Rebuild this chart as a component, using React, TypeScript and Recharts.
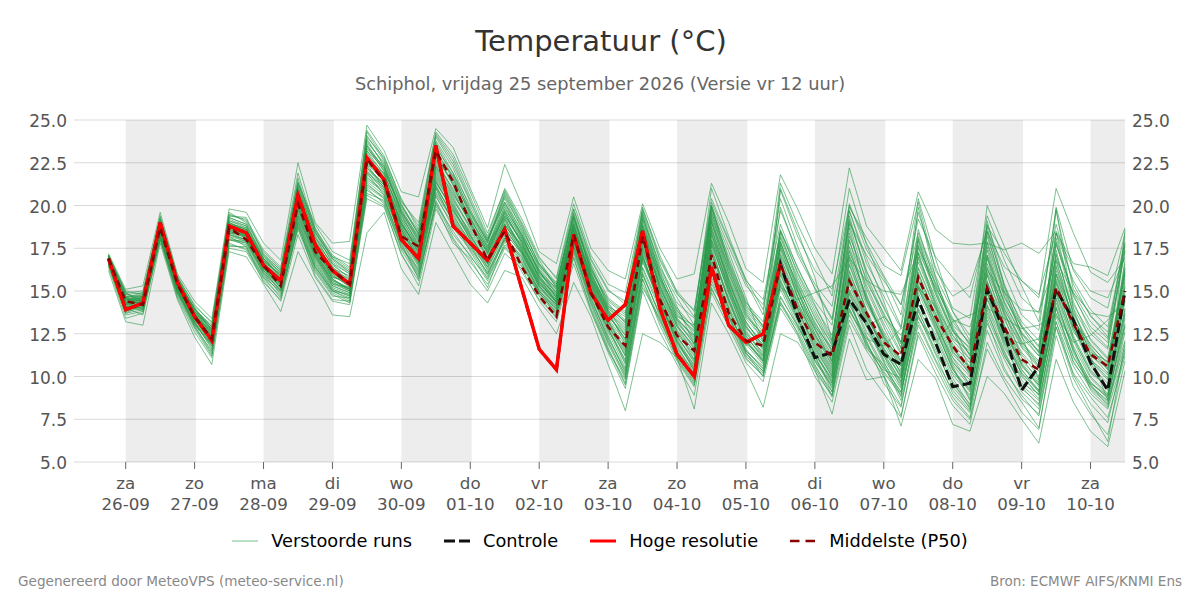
import { CartesianGrid, Line, LineChart, ReferenceArea, XAxis, YAxis } from "recharts";

const hours = [-6,0,6,12,18,24,30,36,42,48,54,60,66,72,78,84,90,96,102,108,114,120,126,132,138,144,150,156,162,168,174,180,186,192,198,204,210,216,222,228,234,240,246,252,258,264,270,276,282,288,294,300,306,312,318,324,330,336,342,348];
const dayTicks = [0,24,48,72,96,120,144,168,192,216,240,264,288,312,336];
const dayNames = ["za","zo","ma","di","wo","do","vr","za","zo","ma","di","wo","do","vr","za"];
const dayDates = ["26-09","27-09","28-09","29-09","30-09","01-10","02-10","03-10","04-10","05-10","06-10","07-10","08-10","09-10","10-10"];
const shadedStarts = [0,48,96,144,192,240,288,336];
const tempTicks = [5,7.5,10,12.5,15,17.5,20,22.5,25];

const hogeResolutie = [16.9,13.9,14.3, 19.0,15.5,13.5,12.1, 18.8,18.4,16.5,15.6, 20.6,17.7,16.2,15.4, 22.8,21.5,18.0,16.9, 23.5,18.8,17.8,16.8, 18.6,15.1,11.6,10.4, 18.3,14.9,13.3,14.2, 18.5,14.0,11.3,10.0, 16.4,13.0,12.0,12.5, 16.6];
const controle = [16.9,13.9,14.3, 19.0,15.5,13.5,12.1, 18.8,18.4,16.5,15.6, 20.6,17.7,16.2,15.4, 22.8,21.5,18.0,16.9, 23.5,18.8,17.8,16.8, 18.6,15.1,11.6,10.4, 18.3,14.9,13.3,14.2, 18.5,14.0,11.3,10.0, 16.4,13.0,12.0,12.5, 16.6,13.5,11.1,11.4, 14.5,13.1,11.3,10.7, 14.5,12.0,9.4,9.6, 15.1,12.6,9.2,10.6, 15.1,13.3,10.8,9.2, 15.0];
const middelste = [16.9,14.4,14.2, 18.7,15.4,13.5,12.2, 18.7,18.0,16.5,15.3, 20.1,17.3,16.2,15.4, 22.7,21.4,18.2,17.6, 23.2,21.4,19.0,16.8, 18.5,16.4,14.7,13.5, 18.3,14.9,12.9,11.8, 18.2,14.5,12.4,11.5, 17.1,13.7,12.1,11.8, 16.6,13.9,12.0,11.2, 15.6,13.7,12.0,11.2, 15.8,13.5,11.8,10.4, 15.2,12.9,11.0,10.4, 15.2,13.1,11.3,10.6, 15.0];

const run01 = [17.2,15.1,15.3, 19.6,16.0,14.4,13.4, 19.8,19.6,17.8,16.8, 22.5,19.0,17.8,17.9, 24.7,23.2,20.8,20.5, 24.5,23.4,21.0,18.7, 22.4,20.0,17.3,16.6, 20.5,17.5,16.2,15.7, 20.1,17.5,15.7,16.0, 21.3,19.0,16.3,15.5, 21.8,19.8,17.5,16.0, 22.2,18.8,17.5,16.2, 20.8,18.6,17.8,17.7, 17.8,17.4,17.8,17.2, 18.5,16.6,16.4,15.9, 18.7];
const run02 = [16.2,13.2,13.0, 17.8,14.5,12.3,10.7, 17.3,17.0,15.4,13.8, 17.3,15.5,13.6,13.5, 18.4,19.6,16.3,14.8, 19.0,17.2,15.4,14.3, 16.2,15.8,14.0,12.5, 15.5,13.5,10.7,8.0, 12.5,12.0,11.1,8.1, 14.3,12.5,10.4,8.2, 12.5,12.0,10.4,7.8, 12.2,9.8,10.0,7.1, 11.0,9.9,7.2,6.8, 10.0,9.0,7.5,6.1, 11.0,8.5,6.8,5.9, 10.3];
const run03 = [17.0,14.8,14.9, 19.2,15.8,13.9,13.0, 19.5,19.1,17.2,16.2, 21.6,18.4,17.0,16.6, 24.1,22.6,20.0,18.5, 24.0,22.4,20.2,18.0, 20.8,18.9,16.8,15.2, 19.8,16.9,15.1,14.2, 19.6,16.4,14.6,13.0, 20.0,16.8,14.4,12.9, 20.9,18.2,16.2,15.1, 20.0,17.8,15.9,14.2, 18.4,15.9,13.8,12.4, 18.9,16.0,13.6,12.7, 19.9,16.2,14.6,14.0, 18.4];
const run04 = [16.9,14.5,14.7, 18.8,15.4,13.6,12.5, 19.0,18.6,16.8,15.9, 20.8,17.9,16.6,16.0, 23.6,22.1,19.5,17.9, 23.4,21.9,19.6,17.6, 20.2,18.2,16.2,14.6, 19.2,16.3,14.3,13.1, 19.2,15.7,13.9,12.4, 19.3,16.0,13.8,12.3, 19.9,17.1,15.2,13.4, 19.7,16.6,14.7,12.8, 18.1,15.3,13.2,11.9, 18.5,15.4,13.0,11.7, 18.4,15.6,13.9,12.9, 17.9];
const run05 = [16.7,14.2,14.4, 18.5,15.2,13.3,12.3, 18.8,18.3,16.5,15.4, 20.2,17.5,16.1,15.4, 23.1,21.6,19.2,17.5, 22.9,21.2,19.1,17.2, 19.6,17.8,15.8,14.3, 18.8,15.8,13.9,12.4, 18.8,15.1,13.3,11.9, 18.6,15.5,13.2,11.7, 18.5,16.4,14.2,12.1, 19.1,16.1,14.1,12.0, 17.6,14.8,12.7,11.3, 17.9,14.9,12.5,11.2, 17.8,14.9,13.2,12.2, 17.3];
const run06 = [16.8,14.6,14.2, 18.3,15.0,13.2,11.9, 18.2,17.9,16.0,15.1, 19.4,16.8,15.2,14.8, 21.5,20.8,18.0,16.2, 21.0,19.0,17.6,16.0, 18.2,17.0,15.0,13.9, 17.6,14.9,12.4,10.2, 16.4,14.1,11.8,10.1, 17.2,14.4,12.0,10.9, 15.6,13.4,11.3,9.8, 14.9,12.6,11.2,9.4, 14.6,12.3,10.1,8.9, 14.2,11.9,9.8,8.7, 14.8,11.8,9.9,8.9, 13.0];
const run07 = [17.1,14.0,14.6, 19.0,15.6,13.7,12.8, 19.2,18.8,17.0,16.1, 21.0,18.2,16.4,15.6, 22.8,21.8,19.4,17.7, 22.2,20.4,18.6,17.1, 19.0,17.6,15.6,14.4, 18.4,15.4,13.3,11.8, 17.8,14.9,12.7,11.0, 18.8,15.4,13.0,11.5, 17.2,15.0,12.5,10.6, 17.6,14.5,12.2,10.1, 16.4,14.0,11.8,10.4, 16.6,13.8,11.1,9.7, 16.4,13.4,11.6,10.6, 15.9];
const run08 = [16.5,13.6,13.8, 18.1,14.9,13.0,11.4, 17.7,17.5,15.8,14.6, 18.8,16.2,14.8,14.3, 20.9,20.2,17.4,15.8, 20.3,18.3,17.1,15.6, 17.7,16.6,14.8,13.6, 17.2,14.2,11.7,9.6, 15.4,13.2,11.1,9.6, 15.6,13.4,11.2,10.2, 14.3,12.8,10.6,9.1, 13.6,11.6,10.7,8.6, 13.2,11.0,9.2,8.0, 13.1,11.0,9.1,8.1, 13.2,10.6,9.0,8.1, 11.4];
const run09 = [16.9,14.9,14.4, 18.9,15.5,14.0,12.7, 18.9,18.4,16.7,15.7, 20.4,17.8,15.7,15.1, 22.3,21.2,18.8,17.0, 22.6,20.8,18.9,17.4, 19.4,18.0,16.0,14.9, 18.9,16.0,14.0,13.0, 18.4,15.6,13.4,12.2, 19.5,16.2,13.6,12.4, 18.2,15.8,13.7,11.8, 19.4,15.9,13.6,11.7, 17.7,15.1,12.7,11.6, 18.4,14.7,12.6,11.4, 17.9,14.2,12.5,11.6, 17.4];
const run10 = [16.6,13.9,14.1, 18.4,15.1,13.4,12.1, 18.5,18.1,16.3,15.3, 19.9,17.1,15.5,15.0, 21.9,21.1,18.3,16.6, 21.5,19.6,18.1,16.4, 18.6,17.3,15.3,14.1, 18.0,15.1,12.9,10.9, 17.0,14.5,12.2,10.6, 17.9,14.8,12.4,11.0, 16.8,14.2,11.9,10.2, 16.2,13.5,11.6,9.9, 15.7,13.2,10.9,9.5, 15.6,12.8,10.4,9.2, 15.2,12.4,10.4,9.3, 14.4];
const run11 = [17.0,14.3,14.0, 18.6,15.3,13.5,12.4, 18.7,18.4,16.6,15.6, 20.6,17.6,16.3,15.9, 23.3,22.3,19.6,18.0, 23.8,22.2,19.8,17.8, 20.4,18.4,16.4,15.3, 19.4,16.4,14.4,13.6, 19.0,15.3,13.0,11.6, 16.6,14.0,11.4,10.0, 14.6,13.0,11.0,9.6, 13.8,12.2,11.8,12.8, 13.4,12.0,13.2,13.6, 14.0,13.4,12.8,13.0, 13.6,12.0,12.4,13.3, 14.6];
const run12 = [16.4,13.4,13.7, 18.0,14.6,12.6,11.1, 17.5,17.3,15.6,14.4, 18.3,15.8,14.4,14.2, 20.4,19.9,17.2,15.3, 19.8,18.0,16.4,15.0, 17.2,16.3,14.4,13.2, 16.6,13.8,11.4,9.3, 15.0,12.6,10.7,8.9, 14.9,12.9,10.8,9.7, 14.0,12.4,10.0,8.5, 13.0,10.4,9.0,7.6, 12.4,10.2,8.3,7.2, 12.0,9.9,8.5,7.0, 12.4,9.4,7.8,6.6, 10.9];
const run13 = [17.1,15.0,14.8, 19.4,15.9,14.1,13.2, 19.4,19.2,17.4,16.4, 21.9,18.6,17.1,16.4, 24.4,22.9,20.3,18.8, 24.2,22.8,20.5,18.2, 21.0,19.2,17.0,15.7, 19.8,16.8,15.0,14.4, 19.7,16.8,14.8,13.9, 20.0,17.6,15.3,14.2, 18.9,16.3,14.4,13.0, 20.1,17.4,15.8,13.6, 19.6,16.4,14.0,13.4, 19.4,16.8,14.6,13.7, 18.9,15.4,13.5,12.6, 17.8];
const run14 = [16.8,14.1,13.9, 18.2,14.9,13.1,11.7, 18.0,17.7,15.9,14.9, 19.1,16.5,15.0,14.5, 21.2,20.5,17.7,16.0, 20.6,18.7,17.4,15.9, 18.0,16.9,14.9,13.8, 17.4,14.6,12.1,10.0, 16.0,13.6,11.5,9.8, 16.4,13.8,11.6,10.4, 15.1,13.0,10.9,9.4, 14.3,11.9,10.2,8.9, 13.9,11.4,9.6,8.4, 13.7,11.4,9.3,8.4, 13.7,11.2,9.4,8.6, 12.1];
const run15 = [16.9,14.7,14.5, 19.1,15.7,13.8,12.9, 19.1,18.7,16.9,15.8, 20.6,18.0,16.2,15.3, 22.9,21.5,19.0,17.3, 22.4,20.6,19.2,17.6, 19.9,18.2,16.1,15.0, 18.6,15.7,13.7,12.6, 18.6,15.9,13.6,12.7, 20.0,16.6,14.1,13.0, 15.2,14.5,14.9,15.3, 16.9,15.6,15.0,14.8, 17.3,15.2,13.3,12.9, 16.2,14.9,13.9,13.8, 16.8,14.9,13.7,13.5, 14.2];
const run16 = [16.7,13.8,14.3, 18.4,15.2,13.3,12.2, 18.6,18.3,16.4,15.2, 19.7,17.0,15.4,15.2, 22.0,20.9,18.5,16.9, 21.2,19.3,17.8,16.6, 18.9,17.5,15.5,14.4, 18.2,15.2,13.0,11.2, 17.3,14.7,12.4,10.8, 18.0,15.1,12.6,11.2, 16.6,14.0,11.6,10.0, 18.4,15.1,12.9,10.8, 15.3,13.7,11.7,10.2, 17.0,13.0,10.8,9.6, 17.4,13.6,10.9,9.8, 16.4];
const run17 = [17.0,14.4,14.6, 18.7,15.4,13.5,12.6, 19.3,18.9,16.9,15.9, 20.9,18.3,16.7,16.0, 23.8,22.4,19.7,18.2, 23.1,21.7,19.4,17.7, 19.3,17.9,15.9,14.7, 18.7,15.9,13.9,12.9, 18.1,15.4,13.1,12.1, 19.0,15.8,13.4,12.2, 17.6,15.4,13.0,11.2, 15.0,12.9,13.5,12.4, 15.2,14.1,12.4,11.3, 15.0,12.3,11.9,12.2, 15.6,12.8,11.0,9.9, 13.6];
const run18 = [16.6,14.0,13.6, 18.0,14.8,12.9,11.3, 17.8,17.4,15.7,14.7, 18.6,16.1,14.7,14.6, 21.0,20.1,17.6,15.9, 20.0,17.8,16.9,15.2, 17.9,16.1,14.5,13.5, 17.0,13.9,11.5,9.8, 15.7,13.0,10.9,9.4, 15.2,13.1,11.0,10.1, 14.4,12.5,10.3,8.9, 13.9,12.1,9.6,8.2, 13.6,11.3,9.0,7.9, 13.3,10.5,8.7,7.8, 13.2,10.1,8.4,7.3, 11.6];
const run19 = [16.9,14.6,14.8, 18.8,15.5,13.8,12.5, 18.4,18.0,16.2,15.0, 20.0,17.2,15.8,15.5, 22.5,21.4,19.1,17.2, 21.8,20.0,18.4,16.9, 18.4,17.2,15.2,14.2, 18.2,15.5,13.4,12.0, 18.0,15.0,12.9,11.4, 18.4,15.0,12.8,11.9, 17.9,15.2,13.2,11.4, 18.7,14.8,12.0,10.6, 18.0,14.9,12.4,11.0, 17.6,14.2,12.0,10.9, 16.9,13.1,11.3,10.2, 16.8];
const run20 = [16.8,14.2,14.4, 18.5,15.3,13.6,12.0, 18.9,18.5,16.7,15.5, 20.3,17.4,15.9,15.3, 22.7,21.7,18.9,17.5, 23.0,21.2,18.9,16.9, 19.6,17.7,15.7,14.5, 18.6,15.6,13.6,12.2, 17.6,14.4,12.0,10.7, 16.2,13.6,11.8,12.8, 16.4,14.6,12.8,10.8, 15.9,13.4,11.9,10.2, 15.4,12.9,10.4,9.1, 15.3,12.6,10.1,8.9, 15.9,12.9,10.8,9.2, 15.0];
const run21 = [17.0,14.5,14.2, 18.9,15.6,13.6,12.3, 18.6,18.2,16.5,15.7, 21.3,18.6,16.8,16.1, 23.5,22.0,19.9,18.4, 22.8,21.4,19.2,17.5, 20.0,18.1,16.2,15.1, 19.1,16.3,14.2,13.3, 19.3,16.6,14.1,11.9, 19.8,17.3,14.6,12.0, 21.0,18.5,15.8,12.1, 19.7,16.9,14.4,11.6, 19.9,15.8,12.8,10.4, 19.1,15.3,12.4,9.8, 19.8,14.0,11.2,8.6, 18.6];
const run22 = [16.7,14.1,14.0, 18.3,15.0,13.1,11.8, 18.1,17.8,16.1,15.1, 19.2,16.6,15.1,14.7, 21.4,20.6,18.1,16.4, 20.8,19.2,17.7,16.3, 18.3,16.8,15.1,14.0, 17.8,14.9,12.6,10.5, 16.7,14.3,12.1,10.3, 16.9,14.1,11.9,10.7, 16.0,13.6,11.2,9.1, 15.6,13.1,10.9,8.8, 15.1,13.0,10.6,8.7, 14.5,12.2,10.4,9.1, 14.3,11.7,9.2,8.2, 12.6];
const run23 = [16.8,14.7,14.7, 18.7,15.4,13.7,12.7, 18.8,18.2,16.6,15.6, 20.7,18.1,16.5,15.8, 23.0,21.9,19.3,17.8, 23.6,21.6,19.5,17.9, 20.6,18.6,16.6,15.5, 19.5,16.1,13.8,12.8, 18.9,16.2,13.8,12.9, 19.9,16.5,14.0,12.8, 18.4,15.6,13.5,11.5, 17.9,15.3,13.1,11.3, 18.6,15.4,12.9,11.2, 18.2,15.0,12.9,11.4, 18.4,14.4,12.1,11.0, 16.0];
const run24 = [16.5,13.7,13.9, 18.1,14.7,12.8,11.2, 17.6,17.6,15.5,14.5, 18.9,15.9,14.5,14.4, 20.6,20.0,17.1,15.6, 20.2,18.1,16.7,15.4, 17.5,16.5,14.7,13.4, 16.9,14.0,11.6,9.5, 15.2,13.4,11.0,9.5, 15.1,13.2,11.1,10.0, 14.2,12.6,10.5,8.8, 13.3,11.5,10.0,8.3, 13.0,10.9,8.8,7.6, 12.7,10.3,8.9,7.7, 12.9,10.2,8.8,7.6, 11.2];
const run25 = [17.1,14.9,15.0, 19.3,15.8,14.2,13.1, 19.6,19.0,17.3,16.3, 21.3,18.9,17.3,16.8, 24.3,22.7,20.2,19.0, 24.3,23.0,20.8,18.4, 20.9,19.0,16.9,15.8, 20.1,17.1,15.4,14.9, 19.9,16.9,15.0,13.8, 20.4,18.0,15.7,13.9, 20.4,17.6,15.1,13.3, 19.0,17.1,15.6,14.2, 19.2,17.0,15.8,14.6, 18.8,17.2,15.6,14.8, 18.4,16.3,15.0,14.6, 17.0];
const run26 = [16.9,14.4,14.3, 18.6,15.2,13.4,12.2, 18.7,18.4,16.4,15.4, 20.1,17.3,15.6,15.2, 22.2,21.3,18.7,17.1, 22.0,20.2,18.3,16.7, 19.2,17.4,15.4,14.3, 18.3,15.3,13.2,11.4, 17.5,14.8,12.5,11.2, 18.2,15.2,12.9,11.6, 17.1,14.9,12.7,10.9, 16.8,14.2,12.4,10.6, 16.9,14.3,11.9,10.8, 16.9,14.4,12.3,11.2, 15.7,12.6,11.4,10.9, 15.2];
const run27 = [17.0,14.2,14.7, 18.8,15.6,13.9,12.6, 19.0,18.6,16.8,15.9, 20.5,17.7,16.0,15.4, 23.2,22.2,19.7,17.9, 22.7,20.9,19.0,17.4, 19.8,18.3,16.0,15.2, 18.9,15.8,13.5,12.4, 18.7,15.7,13.3,12.4, 19.2,16.0,13.5,12.5, 17.4,14.7,12.3,11.0, 16.6,13.9,11.7,10.0, 16.1,13.5,11.1,10.0, 15.9,13.3,11.4,10.3, 16.2,13.3,11.9,10.7, 14.8];
const run28 = [16.6,14.3,13.9, 18.2,15.0,13.2,11.6, 18.3,18.0,16.1,15.0, 19.5,16.9,15.3,14.9, 21.7,20.7,18.4,16.7, 21.3,19.8,18.0,16.2, 18.5,17.1,15.2,14.1, 17.9,14.8,12.8,10.7, 16.9,14.2,12.0,10.4, 17.4,14.6,12.2,10.9, 15.9,13.8,11.5,9.7, 15.4,12.9,10.8,9.3, 14.9,12.7,10.5,8.6, 14.6,12.0,10.2,9.2, 14.6,11.5,9.7,8.7, 13.4];
const run29 = [16.8,14.5,14.6, 18.9,15.7,13.9,12.9, 18.9,18.6,16.9,16.1, 21.2,18.4,17.0,16.3, 23.7,22.5,20.1,18.3, 22.9,21.8,19.7,17.8, 20.7,18.8,16.5,15.4, 19.3,16.5,14.1,13.2, 19.4,16.3,14.3,13.4, 21.0,18.2,15.6,14.5, 19.7,17.3,15.4,14.1, 19.9,18.1,16.5,15.9, 20.2,16.2,14.7,15.3, 18.5,16.4,15.6,14.6, 21.0,18.4,16.1,15.5, 16.9];
const run30 = [16.9,13.9,14.1, 18.5,15.1,13.4,12.3, 18.4,18.3,16.3,15.2, 19.3,16.7,15.1,14.7, 21.6,20.9,18.2,16.5, 21.1,19.4,17.9,16.5, 18.7,17.2,15.3,14.2, 18.1,15.0,12.7,11.0, 17.2,14.0,11.7,10.2, 17.6,14.3,12.1,10.8, 16.4,14.4,12.1,10.4, 14.2,12.3,10.4,9.9, 14.0,12.1,9.9,8.3, 13.9,11.2,9.6,9.0, 14.0,11.1,9.6,8.8, 13.1];
const run31 = [17.0,14.6,14.1, 18.7,15.3,13.7,12.4, 18.5,18.1,16.4,15.4, 20.0,17.4,15.7,15.0, 22.6,21.5,18.9,17.3, 21.7,19.9,18.5,17.0, 18.8,17.7,15.8,14.6, 18.5,15.9,13.8,11.9, 18.3,15.2,12.9,11.8, 19.1,15.6,13.1,12.0, 17.9,15.0,12.9,11.7, 17.3,14.7,12.6,11.0, 17.0,14.6,12.2,11.5, 17.4,13.9,12.1,10.6, 17.2,13.7,11.7,10.4, 16.6];
const run32 = [16.7,14.0,14.5, 18.4,15.4,13.5,12.1, 18.3,17.9,16.2,15.3, 19.6,17.0,15.6,15.1, 21.8,21.0,18.6,16.8, 21.4,19.7,18.2,16.6, 19.1,17.5,15.6,14.5, 18.4,15.4,13.3,11.5, 17.4,14.6,12.6,11.3, 18.5,15.3,12.7,11.3, 17.0,14.3,12.2,10.5, 16.5,13.8,11.4,9.7, 16.3,13.9,11.5,10.1, 16.4,13.5,10.7,9.4, 16.0,13.0,11.0,10.1, 15.5];
const run33 = [16.8,14.3,14.5, 18.6,15.3,13.6,12.3, 18.6,18.2,16.5,15.5, 20.2,17.5,15.9,15.3, 22.1,21.2,18.8,17.2, 20.5,18.9,17.5,16.1, 18.1,17.0,15.0,14.0, 17.7,14.7,12.2,10.3, 16.1,13.5,11.3,9.9, 16.7,13.5,11.4,10.3, 15.3,13.2,10.7,8.9, 14.5,12.0,10.1,7.7, 12.6,10.6,8.6,7.5, 11.6,9.7,7.9,6.9, 12.9,9.9,8.0,6.2, 12.0];
const run34 = [17.1,14.8,14.6, 19.0,15.5,13.8,12.8, 19.3,18.9,17.1,16.2, 21.4,18.7,16.9,16.1, 24.0,22.8,20.4,18.6, 24.1,22.6,20.3,18.1, 20.2,18.5,16.3,15.1, 19.6,16.6,14.6,13.8, 19.8,17.1,14.9,13.5, 20.2,17.9,15.5,13.6, 21.3,18.9,16.8,14.7, 21.0,17.7,15.2,12.9, 20.4,16.9,13.8,12.1, 20.0,17.6,15.3,13.2, 19.7,15.1,13.6,12.3, 18.2];
const run35 = [16.9,14.2,13.8, 18.4,15.0,12.9,11.5, 18.0,17.9,16.6,15.8, 19.0,16.3,14.9,14.4, 20.7,20.3,17.8,15.7, 20.1,18.5,17.0,15.8, 17.6,16.4,14.9,13.7, 17.3,14.4,11.9,9.9, 15.7,13.3,11.4,10.4, 15.4,13.6,11.3,10.3, 14.7,12.9,11.2,9.3, 14.0,11.8,10.5,9.1, 13.5,11.6,9.4,8.2, 13.5,11.2,9.5,8.6, 13.5,10.9,9.3,8.4, 11.8];
const run36 = [17.1,14.6,14.9, 19.2,15.7,14.0,12.9, 19.4,19.3,17.1,16.0, 21.1,18.1,16.9,16.2, 23.4,22.0,19.8,18.1, 23.3,21.5,19.6,18.0, 20.1,18.3,16.5,15.4, 19.3,16.2,14.5,13.7, 19.5,15.9,13.7,12.6, 19.7,16.3,13.9,12.6, 18.6,16.0,13.9,12.0, 19.2,16.2,14.0,12.0, 18.2,15.7,13.0,12.0, 18.7,15.2,13.2,12.1, 18.1,14.7,12.9,12.0, 17.6];
const run37 = [16.6,13.7,14.2, 18.3,15.1,13.0,11.9, 18.2,17.6,15.8,15.0, 18.7,16.4,15.0,14.6, 21.1,20.4,17.9,16.1, 20.7,19.1,17.3,15.7, 18.1,16.7,15.0,13.9, 17.5,14.5,12.3,10.4, 16.3,13.9,11.6,10.0, 16.1,14.0,11.5,10.6, 15.4,13.3,11.4,9.6, 14.8,12.4,10.6,9.1, 14.2,12.5,10.2,9.3, 14.9,11.7,10.0,8.9, 14.5,11.4,9.5,8.5, 13.7];
const run38 = [17.0,14.3,14.7, 18.7,15.5,13.6,12.6, 18.6,18.6,16.7,16.0, 20.0,17.6,15.8,15.6, 22.4,21.6,18.9,17.4, 22.3,20.5,18.7,17.3, 19.5,17.8,15.7,14.8, 18.8,15.6,13.5,12.5, 18.0,15.5,13.2,11.9, 18.3,15.7,13.2,11.8, 17.5,15.1,12.8,11.1, 17.1,14.4,12.3,10.4, 16.7,14.2,11.6,10.5, 16.1,13.7,11.8,10.6, 16.5,13.4,11.5,10.4, 15.7];
const run39 = [16.8,14.7,14.1, 18.5,15.4,13.4,12.4, 18.9,18.7,16.3,15.6, 20.8,17.8,16.2,15.7, 23.2,21.8,19.5,17.6, 22.5,21.0,19.3,17.3, 19.7,18.0,16.2,14.8, 18.9,15.7,13.7,12.1, 18.5,15.0,12.7,11.5, 18.0,15.3,12.5,11.4, 16.9,14.7,12.0,10.3, 17.0,13.7,11.6,10.3, 15.6,13.1,11.1,9.5, 15.5,12.9,10.6,9.5, 15.4,12.3,10.2,9.4, 14.7];
const run40 = [16.9,14.0,14.3, 18.6,15.2,13.3,12.0, 18.8,18.1,16.4,15.4, 19.8,17.2,15.4,15.0, 22.4,21.0,18.4,17.0, 21.6,19.9,18.0,16.8, 19.3,17.4,15.5,14.3, 18.3,15.3,13.1,11.3, 17.1,14.2,12.3,11.0, 17.7,15.0,12.4,11.1, 16.1,13.9,11.8,10.1, 15.7,13.2,11.2,9.6, 15.9,13.4,10.8,9.8, 15.1,12.4,10.9,9.9, 14.9,12.1,10.0,9.0, 13.9];
const run41 = [16.7,14.5,14.4, 18.8,15.3,13.7,12.5, 18.7,18.3,16.6,15.7, 20.4,17.3,16.0,15.2, 22.9,21.3,19.0,17.5, 22.1,20.3,18.8,17.2, 19.2,17.6,15.9,14.6, 18.5,15.5,13.6,12.2, 18.2,15.3,13.0,11.7, 18.7,15.6,12.9,11.7, 17.7,14.6,12.5,10.9, 18.0,14.4,12.5,10.7, 17.2,14.1,11.4,10.6, 17.1,13.6,11.7,10.5, 16.0,13.5,11.2,10.5, 16.1];
const run42 = [17.1,14.9,14.2, 18.9,15.6,14.0,12.7, 19.1,18.8,16.8,15.8, 21.1,18.5,16.6,15.7, 23.9,22.3,20.0,18.3, 23.7,21.9,20.0,17.9, 20.5,18.7,16.6,15.2, 19.4,16.1,14.0,13.2, 18.8,16.0,13.5,13.0, 19.4,16.7,14.2,12.9, 18.1,15.5,13.4,11.9, 18.9,15.5,13.7,11.9, 17.9,15.0,12.6,11.7, 17.8,14.6,12.9,11.8, 17.7,14.8,12.7,11.7, 17.7];
const run43 = [16.6,13.8,14.0, 18.2,14.9,13.1,11.8, 18.0,17.8,16.0,14.8, 19.0,16.4,15.0,14.8, 21.3,20.4,17.5,16.3, 21.0,19.1,17.7,16.0, 18.0,16.6,14.9,13.7, 17.6,14.3,12.0,10.1, 15.9,13.7,11.2,9.7, 15.8,13.5,11.5,10.5, 15.7,13.4,10.9,9.5, 14.6,11.7,10.3,9.0, 13.8,11.8,9.7,8.1, 14.1,11.5,9.4,8.3, 14.0,10.8,9.5,8.3, 12.9];
const run44 = [16.8,14.4,14.8, 19.0,15.6,13.5,12.7, 19.0,18.5,16.9,15.9, 20.3,17.9,16.1,15.5, 22.6,21.9,19.2,17.6, 22.3,20.7,19.0,17.2, 19.4,17.9,15.8,14.7, 18.7,15.7,13.8,12.7, 18.5,15.8,13.4,12.3, 19.0,16.4,13.7,12.1, 17.8,15.3,13.1,11.5, 17.4,14.6,12.3,10.9, 17.2,14.4,12.1,11.0, 16.3,14.0,11.9,10.8, 16.7,13.8,11.8,10.8, 16.2];
const run45 = [16.9,14.6,14.4, 18.6,15.4,13.6,12.4, 18.4,18.2,16.5,15.5, 19.9,17.1,15.7,15.1, 22.0,21.1,18.6,16.8, 21.9,20.1,18.2,16.7, 18.9,17.3,15.4,14.4, 18.3,15.4,13.2,11.6, 17.7,14.7,12.3,10.9, 17.8,14.9,12.3,11.2, 16.3,14.1,12.4,10.7, 16.1,13.6,11.5,10.0, 16.0,13.7,11.3,10.2, 16.0,12.9,11.3,10.0, 15.5,12.8,10.6,9.6, 15.3];
const run46 = [16.7,14.1,14.6, 18.4,15.1,13.2,11.9, 18.3,18.0,16.2,15.2, 19.4,17.0,15.3,14.9, 21.9,20.6,18.2,16.6, 21.1,19.5,17.8,16.4, 18.7,17.2,15.3,14.2, 18.0,15.0,12.8,10.8, 16.8,14.4,11.9,10.5, 17.1,14.5,12.1,10.9, 15.5,13.6,11.3,9.9, 15.1,13.0,11.0,9.5, 15.2,12.8,10.4,9.2, 14.9,12.1,10.2,9.1, 14.1,11.6,9.6,8.9, 14.0];
const run47 = [17.0,14.5,14.5, 18.9,15.8,13.8,12.8, 18.7,18.4,16.6,15.7, 20.6,17.7,16.4,15.5, 23.5,22.2,19.6,18.1, 23.0,21.3,19.3,17.5, 19.7,18.1,16.1,14.9, 19.0,16.0,14.1,13.5, 19.2,16.1,14.0,12.8, 19.6,17.0,14.3,13.2, 18.5,16.1,14.1,12.4, 18.2,15.7,13.4,11.4, 17.5,15.5,13.4,11.8, 17.1,14.3,12.5,11.5, 17.1,14.0,12.2,11.1, 16.3];
const run48 = [16.8,14.3,14.2, 18.5,15.3,13.4,12.2, 18.5,18.2,16.3,15.4, 19.8,17.3,15.5,15.1, 22.2,21.2,18.6,17.0, 21.4,19.7,18.3,16.6, 18.9,17.3,15.5,14.4, 18.1,15.1,13.0,11.2, 17.0,14.5,12.1,10.5, 17.3,14.5,12.0,11.0, 16.2,14.0,11.7,10.0, 15.8,13.3,11.3,9.7, 15.2,13.2,10.7,9.4, 15.5,12.7,10.7,9.5, 15.0,12.2,10.3,9.4, 14.5];

const runs = [run01,run02,run03,run04,run05,run06,run07,run08,run09,run10,run11,run12,run13,run14,run15,run16,run17,run18,run19,run20,run21,run22,run23,run24,run25,run26,run27,run28,run29,run30,run31,run32,run33,run34,run35,run36,run37,run38,run39,run40,run41,run42,run43,run44,run45,run46,run47,run48];

const rows = hours.map((hour, i) => {
  const row: Record<string, number | null> = {
    hour,
    controle: controle[i],
    hoge: hogeResolutie[i] ?? null,
    middelste: middelste[i],
  };
  runs.forEach((run, k) => {
    row["run" + k] = run[i];
  });
  return row;
});

const RUN_COLOR = "#2a9a49";

function DayTick({ x, y, index }: any) {
  return (
    <text x={x} y={y} textAnchor="middle" fill="#555" fontSize={16.7}>
      <tspan x={x} dy={18}>{dayNames[index]}</tspan>
      <tspan x={x} dy={21}>{dayDates[index]}</tspan>
    </text>
  );
}

const legendItems = [
  { label: "Verstoorde runs", stroke: "#2a9a49", width: 1, dash: undefined, opacity: 0.65 },
  { label: "Controle", stroke: "#111", width: 3, dash: "11 4", opacity: 1 },
  { label: "Hoge resolutie", stroke: "#ff0000", width: 3, dash: undefined, opacity: 1 },
  { label: "Middelste (P50)", stroke: "#8b0000", width: 2.5, dash: "9.5 6", opacity: 1 },
];

function PlumeLegend() {
  return (
    <div style={{ position: "absolute", top: 531, width: 1200, display: "flex", justifyContent: "center", gap: 32, fontSize: 17.75, color: "#000", lineHeight: "20px" }}>
      {legendItems.map((item) => (
        <div key={item.label} style={{ display: "flex", alignItems: "center", gap: 13 }}>
          <svg width={26} height={8}>
            <line x1={0} x2={26} y1={4} y2={4} stroke={item.stroke} strokeWidth={item.width} strokeDasharray={item.dash} strokeOpacity={item.opacity} />
          </svg>
          <span>{item.label}</span>
        </div>
      ))}
    </div>
  );
}

export default function App() {
  return (
    <div style={{ position: "absolute", left: 0, top: 0, width: 1200, height: 600, background: "#fff", fontFamily: "'DejaVu Sans', sans-serif" }}>
      <div style={{ position: "absolute", top: 24, left: 1, width: 1200, textAlign: "center", fontSize: 29, color: "#333", lineHeight: "34px" }}>
        Temperatuur (°C)
      </div>
      <div style={{ position: "absolute", top: 73, width: 1200, textAlign: "center", fontSize: 17.8, color: "#666", lineHeight: "22px" }}>
        Schiphol, vrijdag 25 september 2026 (Versie vr 12 uur)
      </div>
      <LineChart width={1200} height={600} data={rows} margin={{ top: 120, right: 0, bottom: 78, left: 0 }} style={{ position: "absolute", left: 0, top: 0 }}>
        <CartesianGrid vertical={false} stroke="#d9d9d9" strokeWidth={1} yAxisId="left" />
        {shadedStarts.map((start) => (
          <ReferenceArea key={start} yAxisId="left" x1={start} x2={Math.min(start + 24.5, 348)} fill="#000" fillOpacity={0.07} stroke="none" />
        ))}
        <XAxis
          dataKey="hour"
          type="number"
          domain={[-18, 348]}
          ticks={dayTicks}
          interval={0}
          axisLine={false}
          tickLine={{ stroke: "#666", strokeWidth: 1 }}
          tickSize={7}
          tick={<DayTick />}
          height={60}
        />
        <YAxis yAxisId="left" width={74} domain={[5, 25]} ticks={tempTicks} tickFormatter={(v: number) => v.toFixed(1)} axisLine={false} tickLine={false} tickSize={0} tickMargin={7} tick={{ fill: "#555", fontSize: 17, dy: 1 }} />
        <YAxis yAxisId="right" orientation="right" width={75} domain={[5, 25]} ticks={tempTicks} tickFormatter={(v: number) => v.toFixed(1)} axisLine={false} tickLine={false} tickSize={0} tickMargin={7} tick={{ fill: "#555", fontSize: 17, dy: 1 }} />
        {runs.map((_, k) => (
          <Line key={k} yAxisId={k === 0 ? "right" : "left"} dataKey={"run" + k} stroke={RUN_COLOR} strokeWidth={1} strokeOpacity={0.6} dot={false} isAnimationActive={false} legendType="none" />
        ))}
        <Line yAxisId="left" dataKey="controle" stroke="#111" strokeWidth={3} strokeDasharray="10 4" dot={false} isAnimationActive={false} legendType="none" />
        <Line yAxisId="left" dataKey="hoge" stroke="#ff0000" strokeWidth={3.5} dot={false} isAnimationActive={false} legendType="none" />
        <Line yAxisId="left" dataKey="middelste" stroke="#8b0000" strokeWidth={2.5} strokeDasharray="7 5" dot={false} isAnimationActive={false} legendType="none" />
      </LineChart>
      <PlumeLegend />
      <div style={{ position: "absolute", left: 18, top: 572, fontSize: 13.6, color: "#888", lineHeight: "18px" }}>
        Gegenereerd door MeteoVPS (meteo-service.nl)
      </div>
      <div style={{ position: "absolute", right: 18, top: 572, fontSize: 13.5, color: "#888", lineHeight: "18px" }}>
        Bron: ECMWF AIFS/KNMI Ens
      </div>
    </div>
  );
}
